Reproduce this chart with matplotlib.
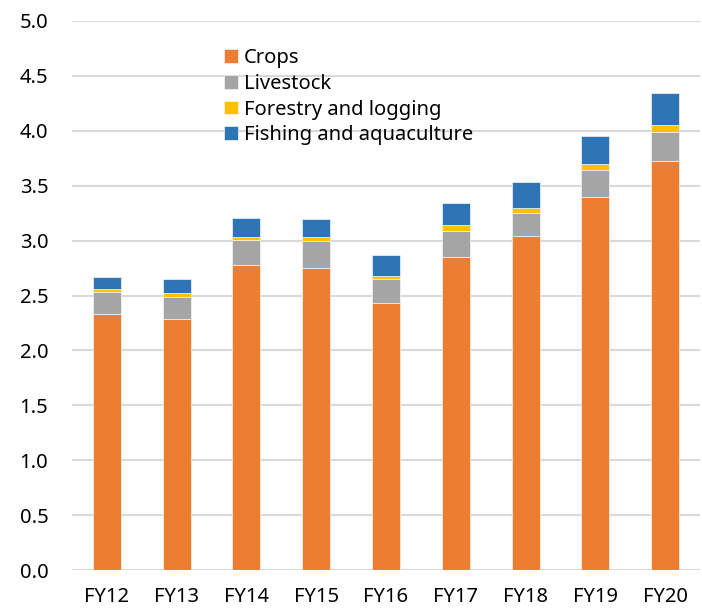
import numpy as np
import matplotlib
matplotlib.use("Agg")
import matplotlib.pyplot as plt

years = ["FY12", "FY13", "FY14", "FY15", "FY16", "FY17", "FY18", "FY19", "FY20"]
crops = [2.33, 2.29, 2.78, 2.75, 2.435, 2.85, 3.045, 3.40, 3.725]
livestock = [0.205, 0.20, 0.225, 0.25, 0.215, 0.24, 0.21, 0.246, 0.265]
forestry = [0.021, 0.03, 0.03, 0.03, 0.025, 0.05, 0.045, 0.054, 0.063]
fishing = [0.114, 0.13, 0.17, 0.17, 0.195, 0.205, 0.23, 0.255, 0.29]

names = ["Crops", "Livestock", "Forestry and logging", "Fishing and aquaculture"]
colors = ["#ED7D31", "#A5A5A5", "#FFC000", "#2E75B6"]

plt.rcParams['font.family'] = ['Noto Sans', 'DejaVu Sans']

fs = 14.5

fig = plt.figure(figsize=(7.02, 6.08), dpi=100)
ax = fig.add_axes([72/702, 1 - 570/608, 628/702, 549/608])

x = np.arange(len(years))
bottom = np.zeros(len(years))
for vals, nm, c in zip([crops, livestock, forestry, fishing], names, colors):
    ax.bar(x, vals, width=0.4, bottom=bottom, color=c, label=nm,
           edgecolor='#f4f4f4', linewidth=0.5, zorder=3)
    bottom += np.array(vals)

ax.set_xlim(-0.5, len(years) - 0.5)
ax.set_ylim(0, 5.0)
ax.set_yticks(np.arange(0, 5.01, 0.5))
ax.set_yticklabels(["{0:.1f}".format(v) for v in np.arange(0, 5.01, 0.5)])
ax.set_xticks(x)
ax.set_xticklabels(years)
ax.tick_params(axis='both', length=0, labelsize=fs, colors='#000000')
ax.tick_params(axis='x', pad=12)
ax.tick_params(axis='y', pad=17)
ax.grid(axis='y', color='#D9D9D9', linewidth=1.5, zorder=0)
for s in ax.spines.values():
    s.set_visible(False)
ax.set_axisbelow(True)

ax.legend(loc='upper left', bbox_to_anchor=(0.23, 0.965), frameon=False,
          fontsize=fs, handlelength=0.65, handleheight=0.65, handletextpad=0.3,
          labelspacing=0.28, borderaxespad=0)

fig.savefig("out.png", dpi=100)
